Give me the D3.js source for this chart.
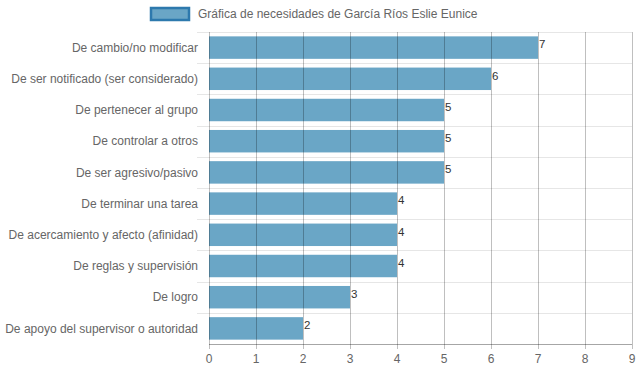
<!DOCTYPE html>
<html>
<head>
<meta charset="utf-8">
<script src="https://cdn.jsdelivr.net/npm/d3@7"></script>
<style>
  body { margin: 0; background: #fff; }
  text { font-family: "Liberation Sans", Arial, sans-serif; }
</style>
</head>
<body>
<svg id="chart" width="639" height="372"></svg>
<script>
// ── Data ──────────────────────────────────────────────────────────────────────
const categories = [
  'De cambio/no modificar',
  'De ser notificado (ser considerado)',
  'De pertenecer al grupo',
  'De controlar a otros',
  'De ser agresivo/pasivo',
  'De terminar una tarea',
  'De acercamiento y afecto (afinidad)',
  'De reglas y supervisión',
  'De logro',
  'De apoyo del supervisor o autoridad'
];
const values     = [7, 6, 5, 5, 5, 4, 4, 4, 3, 2];
const xTicks     = [0, 1, 2, 3, 4, 5, 6, 7, 8, 9];
const legendText = 'Gráfica de necesidades de García Ríos Eslie Eunice';

// ── Layout ────────────────────────────────────────────────────────────────────
const W = 639, H = 372;
const m = {top: 32, right: 7, bottom: 28, left: 209};

const svg = d3.select('#chart');

const x = d3.scaleLinear().domain([0, 9]).range([m.left, W - m.right]);
const y = d3.scaleBand().domain(categories).range([m.top, H - m.bottom]).paddingInner(0.28).paddingOuter(0.14);
const yRow = d3.scaleBand().domain(categories).range([m.top, H - m.bottom]);

// horizontal grid (row separators)
svg.append('g')
  .selectAll('line')
  .data(categories)
  .join('line')
    .attr('x1', m.left - 12).attr('x2', W - m.right)
    .attr('y1', d => Math.round(yRow(d)) + 0.5)
    .attr('y2', d => Math.round(yRow(d)) + 0.5)
    .attr('stroke', '#e6e6e6').attr('stroke-width', 1);

// bars
svg.append('g')
  .selectAll('rect')
  .data(values)
  .join('rect')
    .attr('x', x(0))
    .attr('y', (d, i) => y(categories[i]))
    .attr('width', d => x(d) - x(0))
    .attr('height', y.bandwidth())
    .attr('fill', '#6aa6c6');

// vertical grid on top of bars
svg.append('g')
  .selectAll('line')
  .data(xTicks)
  .join('line')
    .attr('x1', d => Math.round(x(d)) + 0.5)
    .attr('x2', d => Math.round(x(d)) + 0.5)
    .attr('y1', m.top).attr('y2', H - m.bottom + 5)
    .attr('stroke', 'rgba(0,0,0,0.25)').attr('stroke-width', 1);

// x axis line
svg.append('line')
  .attr('x1', m.left).attr('x2', W - m.right)
  .attr('y1', H - m.bottom + 0.5).attr('y2', H - m.bottom + 0.5)
  .attr('stroke', 'rgba(0,0,0,0.35)');

// x tick labels
svg.append('g')
  .selectAll('text')
  .data(xTicks)
  .join('text')
    .attr('x', d => x(d))
    .attr('y', H - m.bottom + 19)
    .attr('text-anchor', 'middle')
    .attr('font-size', 12)
    .attr('fill', '#666')
    .text(d => d);

// y labels
svg.append('g')
  .selectAll('text')
  .data(categories)
  .join('text')
    .attr('x', m.left - 11)
    .attr('y', d => yRow(d) + yRow.bandwidth() / 2)
    .attr('dy', '0.35em')
    .attr('text-anchor', 'end')
    .attr('font-size', 12)
    .attr('fill', '#666')
    .text(d => d);

// value labels
svg.append('g')
  .selectAll('text')
  .data(values)
  .join('text')
    .attr('x', d => x(d) + 1)
    .attr('y', (d, i) => y(categories[i]) + 12)
    .attr('font-size', 11.5)
    .attr('fill', '#333')
    .text(d => d);

// legend
svg.append('rect')
  .attr('x', 151).attr('y', 8).attr('width', 38).attr('height', 12)
  .attr('fill', '#6aa6c6').attr('stroke', '#2d79ad').attr('stroke-width', 2.5);
svg.append('text')
  .attr('x', 198).attr('y', 14).attr('dy', '0.35em')
  .attr('font-size', 12).attr('fill', '#666')
  .text(legendText);
</script>
</body>
</html>
